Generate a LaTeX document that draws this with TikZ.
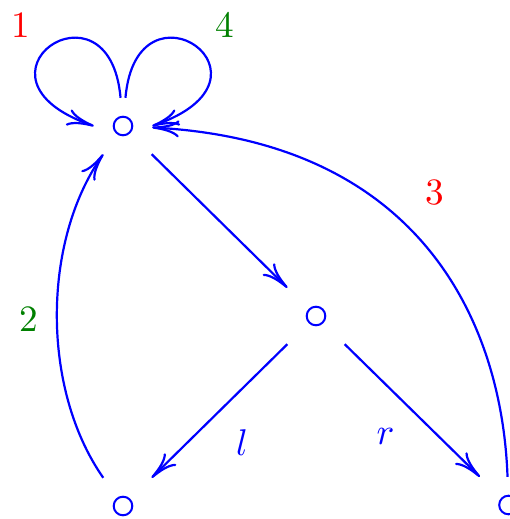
\documentclass[tikz,border=0pt]{standalone}
\usetikzlibrary{arrows.meta}
\definecolor{dgreen}{RGB}{0,128,0}
\begin{document}
\begin{tikzpicture}[x=1pt,y=1pt,
  vertex/.style={rectangle, minimum width=58pt, minimum height=56pt, inner sep=0pt,
    path picture={\draw[blue,line width=2pt] (path picture bounding box.center) circle (9.3pt);}},
  conn/.style={blue, line width=2.2pt, -{Computer Modern Rightarrow[length=27pt,width=17pt]}},
  lab/.style={scale=3.72, inner sep=0pt}]
\useasboundingbox (0,0) rectangle (510,519);
\node[vertex] (a) at (123,393) {};
\node[vertex] (b) at (316,203) {};
\node[vertex] (c) at (123,13) {};
\node[vertex] (d) at (508.5,14) {};
\draw[conn] (a) -- (b);
\draw[conn] (b) -- (c);
\draw[conn] (b) -- (d);
\draw[conn] (c) .. controls +(125:142) and +(235:142) .. (a);
\draw[conn] (d) .. controls +(92:180) and +(-3:300) .. (a);
\draw[conn] (a.95) .. controls +(95:128) and +(161:148) .. (a.180);
\draw[conn] (a.85) .. controls +(85:128) and +(19:148) .. (a.0);
\node[lab, red] (n1) at (20.5,494) {1};
\node[lab, dgreen] (n4) at (225,494) {4};
\node[lab, red] (n3) at (435,326.5) {3};
\node[lab, dgreen] (n2) at (29,200) {2};
\node[lab, blue] (nl) at (242,76) {$l$};
\node[lab, blue] (nr) at (385.5,82.5) {$r$};
\end{tikzpicture}
\end{document}
